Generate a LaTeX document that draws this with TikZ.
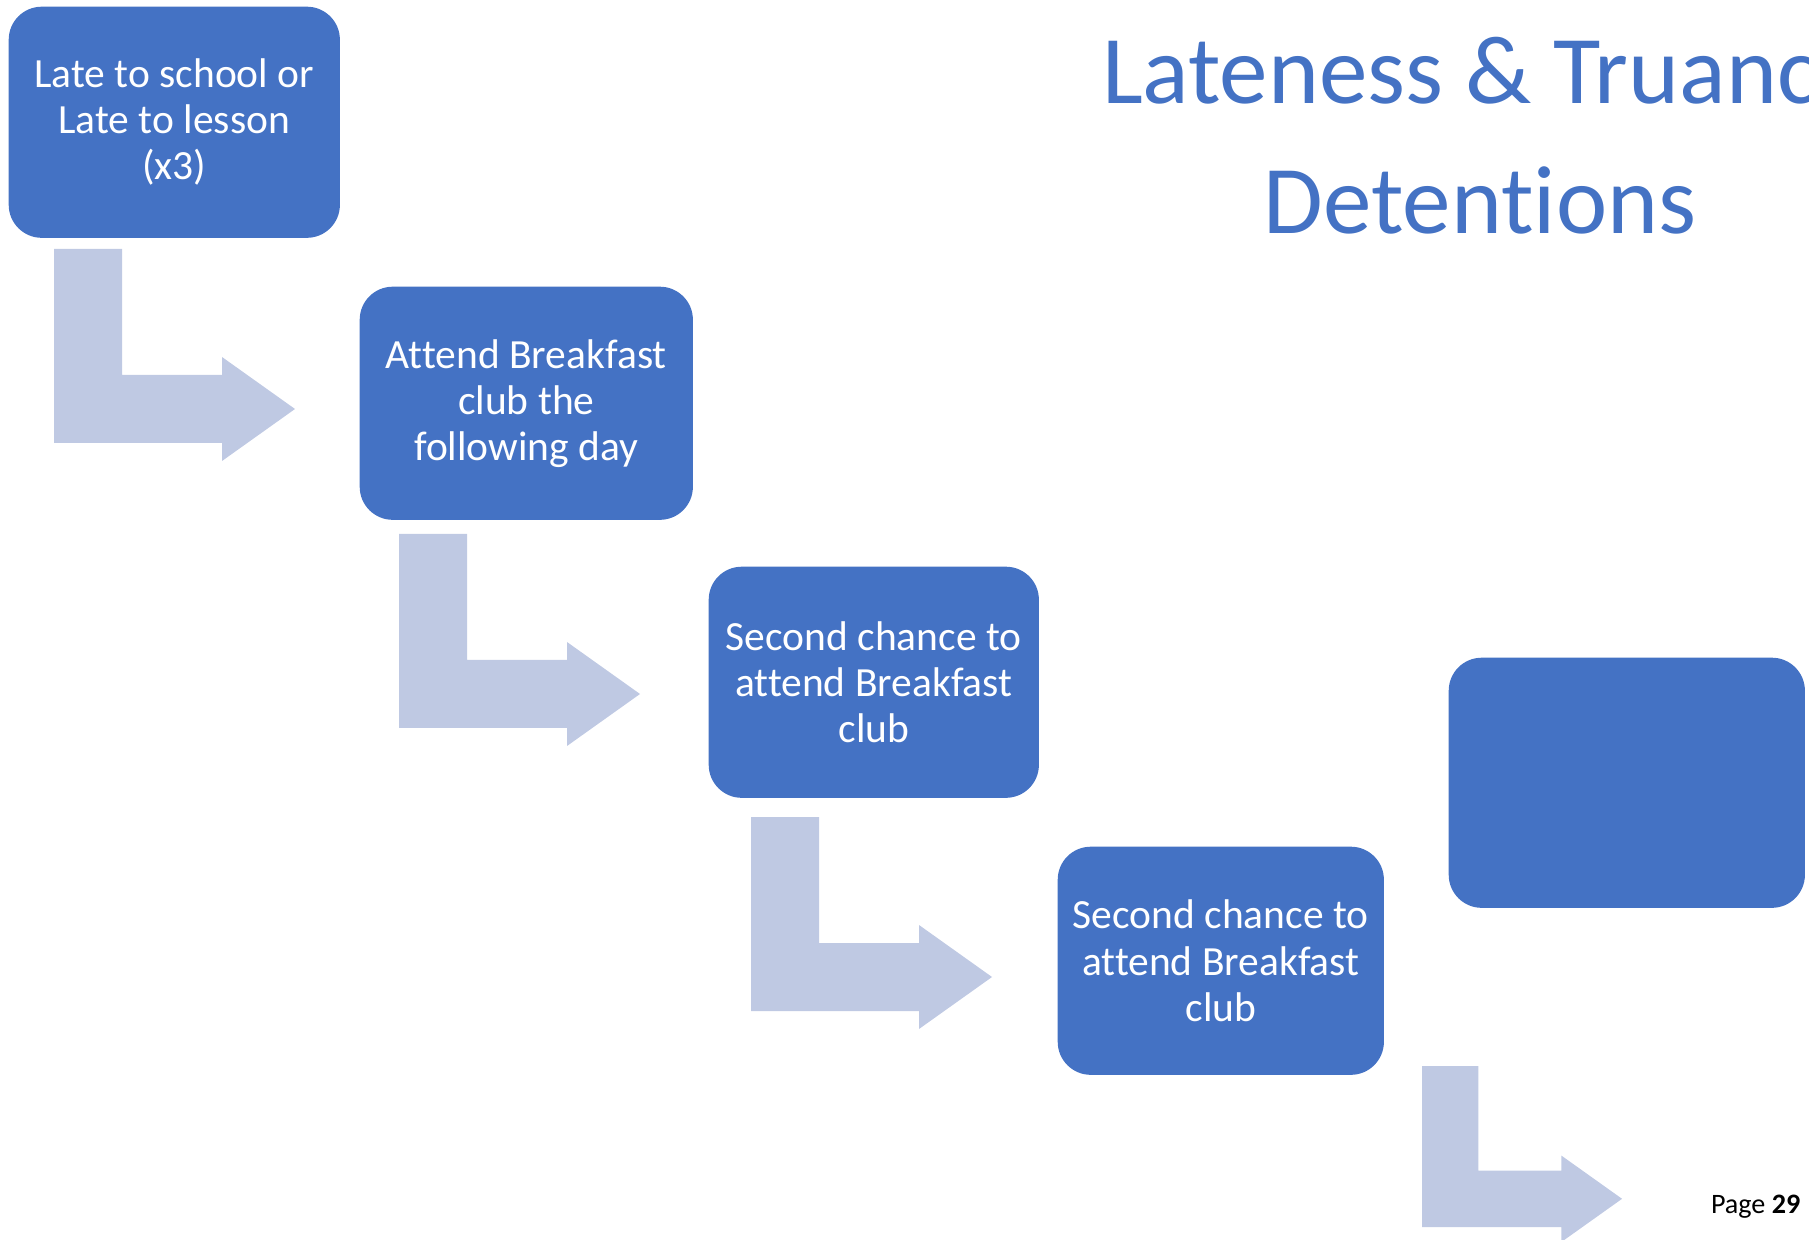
\documentclass[tikz,border=0pt]{standalone}
\usepackage{fontspec}
\setmainfont{Carlito}[Ligatures={NoCommon}]
\usepackage{xcolor}
\usepackage{tikz}
\usetikzlibrary{positioning}
\definecolor{boxblue}{RGB}{68,114,196}
\definecolor{arrowblue}{RGB}{191,201,227}
\tikzset{
  stepbox/.style={rectangle,rounded corners=0.33cm,fill=boxblue,text=white,align=center,
    anchor=north west,inner sep=0pt,font=\fontsize{11.8}{13.1}\selectfont},
  bentarrow/.pic={\fill[arrowblue] (0,0) -- (68,0) -- (68,126) -- (168,126) -- (168,108) -- (241,160)
    -- (168,212) -- (168,194) -- (0,194) -- cycle;}
}
\begin{document}
\begin{tikzpicture}[x=0.01cm,y=-0.01cm]
\useasboundingbox (0,0) rectangle (1809,1240);
\clip (0,0) rectangle (1809,1240);
% steps
\node[stepbox,minimum width=3.31cm,minimum height=2.31cm] (late) at (8,6) {Late to school or\\Late to lesson\\(x3)};
\node[stepbox,minimum width=3.33cm,minimum height=2.33cm] (breakfast) at (359,286) {Attend Breakfast\\club the\\following day};
\node[stepbox,minimum width=3.30cm,minimum height=2.31cm] (second) at (708,566) {Second chance to\\attend Breakfast\\club};
\node[stepbox,minimum width=3.26cm,minimum height=2.28cm] (secondb) at (1057,846) {Second chance to\\attend Breakfast\\club};
\node[stepbox,minimum width=3.56cm,minimum height=2.50cm] (blank) at (1448,657) {};
% bent arrows
\foreach \ax/\ay in {54/249,399/534,751/817} \pic at (\ax,\ay) {bentarrow};
\pic[scale=0.83] at (1422,1066) {bentarrow};
% title
\node[anchor=base,text=boxblue,font=\fontsize{27.6}{32}\selectfont,inner sep=0pt] (title) at (1482,104) {Lateness \& Truancy};
\node[anchor=base,text=boxblue,font=\fontsize{27.6}{32}\selectfont,inner sep=0pt] (subtitle) at (1480,234) {Detentions};
\node[anchor=base east,font=\fontsize{8}{9.6}\selectfont,inner sep=0pt] (page) at (1801,1213) {Page \textbf{29}};
\end{tikzpicture}
\end{document}
